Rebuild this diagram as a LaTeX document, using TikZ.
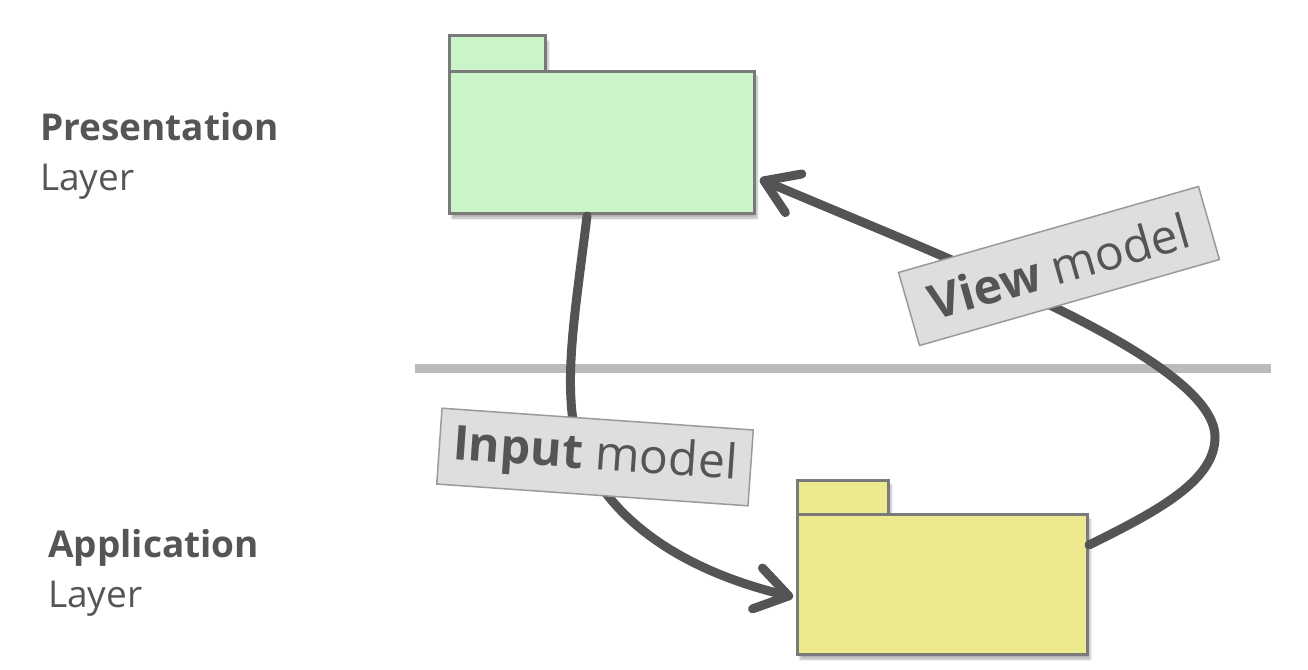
\documentclass[tikz,border=0pt]{standalone}
\usepackage{fontspec}
\setmainfont{Open Sans}
\usetikzlibrary{arrows.meta,shadows.blur}
\definecolor{txtgray}{HTML}{555555}
\definecolor{arrowgray}{HTML}{545454}
\definecolor{boxedge}{HTML}{7A7A7A}
\definecolor{greenfill}{HTML}{C9F5C9}
\definecolor{yellowfill}{HTML}{EDE98F}
\definecolor{labelfill}{HTML}{DEDEDE}
\definecolor{labeledge}{HTML}{9A9A9A}
\definecolor{sepgray}{HTML}{BBBBBB}
\tikzset{
  folderpart/.style={draw=boxedge, line width=3pt, inner sep=0pt, outer sep=0pt, anchor=north west,
    blur shadow={shadow xshift=3pt, shadow yshift=-5pt, shadow blur steps=6, shadow opacity=30}},
  layerlabel/.style={anchor=base west, align=left, inner sep=0pt, text=txtgray,
    font=\fontsize{37}{50}\selectfont},
  modellabel/.style={draw=labeledge, fill=labelfill, line width=1.5pt, text=txtgray,
    minimum width=312pt, minimum height=76pt, inner sep=0pt,
    font=\fontsize{48}{50}\selectfont},
  flow/.style={draw=arrowgray, line width=9pt, line cap=round,
    -{Straight Barb[length=32pt, width=42pt, line cap=round, line join=round]}},
  separator/.style={draw=sepgray, line width=9pt}
}
\begin{document}
\begin{tikzpicture}[x=1pt, y=-1pt]
\useasboundingbox (0,0) rectangle (1308,669);
% layer captions (anchor = baseline of last line)
\node[layerlabel] (prescap) at (40,190) {\textbf{Presentation}\\Layer};
\node[layerlabel] (appcap) at (48,607) {\textbf{Application}\\Layer};
% separator
\coordinate (sepL) at (415,368);
\coordinate (sepR) at (1271,368);
\draw[separator] (sepL) -- (sepR);
% presentation folder
\node[folderpart, fill=greenfill, minimum width=96pt, minimum height=35pt] (prestab) at (449,36) {};
\node[folderpart, fill=greenfill, minimum width=305pt, minimum height=142pt] (pres) at (449,71) {};
% application folder
\node[folderpart, fill=yellowfill, minimum width=91pt, minimum height=34pt] (apptab) at (797,480) {};
\node[folderpart, fill=yellowfill, minimum width=290pt, minimum height=140pt] (app) at (797,514) {};
% connectors
\coordinate (inStart) at (587,216);
\coordinate (inMid) at (571,400);
\coordinate (inEnd) at (793,597);
\draw[flow] (inStart) .. controls (578,290) and (568,350) .. (inMid)
  .. controls (574,480) and (640,560) .. (inEnd);
\coordinate (vStart) at (1089,545);
\coordinate (vMid) at (1215,437);
\coordinate (vEnd) at (760,179);
\draw[flow] (vStart) .. controls (1160,510) and (1215,480) .. (vMid)
  .. controls (1215,360) and (950,260) .. (vEnd);
% labels
\node[modellabel, rotate=-4] (inlabel) at (595,457) {\textbf{Input} model};
\node[modellabel, rotate=16] (vlabel) at (1059,266) {\textbf{View} model};
\end{tikzpicture}
\end{document}
